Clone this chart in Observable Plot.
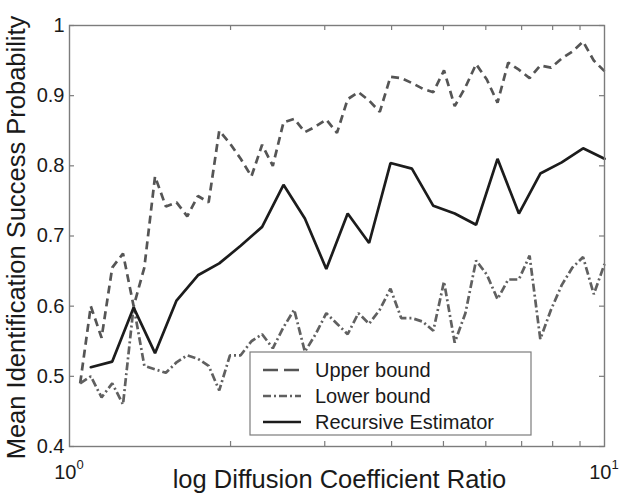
<!DOCTYPE html>
<html>
<head>
<meta charset="utf-8">
<script src="https://cdn.jsdelivr.net/npm/d3@7"></script>
<script src="https://cdn.jsdelivr.net/npm/@observablehq/plot@0.6"></script>
<style>
  html, body { margin: 0; padding: 0; background: #fff; }
</style>
</head>
<body>
<div id="chart"></div>
<script>
// Diffusion coefficient ratios (log-spaced) at which the bounds were evaluated
const ratioFine = [1.047, 1.096, 1.148, 1.202, 1.259, 1.318, 1.380, 1.445, 1.514, 1.585,
  1.660, 1.738, 1.820, 1.905, 1.995, 2.089, 2.188, 2.291, 2.399, 2.512,
  2.630, 2.754, 2.884, 3.020, 3.162, 3.311, 3.467, 3.631, 3.802, 3.981,
  4.169, 4.365, 4.571, 4.786, 5.012, 5.248, 5.495, 5.754, 6.026, 6.310,
  6.607, 6.918, 7.244, 7.586, 7.943, 8.318, 8.710, 9.120, 9.550, 10];

const upperBound = [0.49, 0.60, 0.555, 0.655, 0.675, 0.60, 0.655, 0.785, 0.742, 0.748,
  0.728, 0.757, 0.748, 0.85, 0.832, 0.81, 0.785, 0.83, 0.80, 0.862,
  0.867, 0.848, 0.856, 0.866, 0.847, 0.895, 0.905, 0.893, 0.877, 0.927,
  0.925, 0.918, 0.91, 0.905, 0.936, 0.885, 0.912, 0.945, 0.923, 0.89,
  0.947, 0.937, 0.925, 0.943, 0.94, 0.953, 0.963, 0.977, 0.95, 0.935];

const lowerBound = [0.49, 0.50, 0.47, 0.49, 0.46, 0.60, 0.515, 0.51, 0.505, 0.52,
  0.53, 0.525, 0.515, 0.48, 0.53, 0.53, 0.55, 0.56, 0.54, 0.57,
  0.595, 0.535, 0.56, 0.59, 0.575, 0.56, 0.59, 0.575, 0.595, 0.625,
  0.583, 0.583, 0.578, 0.565, 0.635, 0.548, 0.59, 0.665, 0.645, 0.61,
  0.638, 0.638, 0.672, 0.553, 0.595, 0.63, 0.655, 0.67, 0.617, 0.66];

// Ratios at which the recursive estimator was run
const ratioCoarse = [1.096, 1.202, 1.318, 1.445, 1.585, 1.738, 1.905, 2.089, 2.291, 2.512,
  2.754, 3.020, 3.311, 3.631, 3.981, 4.365, 4.786, 5.248, 5.754, 6.310,
  6.918, 7.586, 8.318, 9.120, 10];

const recursiveEstimator = [0.513, 0.521, 0.598, 0.533, 0.608, 0.644, 0.661, 0.686, 0.713, 0.773,
  0.725, 0.653, 0.732, 0.69, 0.804, 0.796, 0.743, 0.732, 0.716, 0.81,
  0.732, 0.789, 0.805, 0.825, 0.81];

const yTicks = [0.4, 0.5, 0.6, 0.7, 0.8, 0.9, 1];
const xMinorTicks = [2, 3, 4, 5, 6, 7, 8, 9];
const xMajorTicks = [1, 10];
const seriesNames = ["Upper bound", "Lower bound", "Recursive Estimator"];

const FONT = "'Liberation Sans', Arial, Helvetica, sans-serif";
const W = 619, H = 495;
const M = {top: 25, right: 15, bottom: 49, left: 69};
const innerW = W - M.left - M.right;
const innerH = H - M.top - M.bottom;
const TICK = 5;
const AXIS_GRAY = "#7c7c7c";

const upperRows = ratioFine.map((r, i) => ({ratio: r, value: upperBound[i]}));
const lowerRows = ratioFine.map((r, i) => ({ratio: r, value: lowerBound[i]}));
const estRows = ratioCoarse.map((r, i) => ({ratio: r, value: recursiveEstimator[i]}));

const styles = [
  {stroke: "#555555", strokeWidth: 2.7, strokeDasharray: "8,5", legendDash: "15,6"},
  {stroke: "#606060", strokeWidth: 2.7, strokeDasharray: "8,3,2,3", legendDash: "8,3,2,3"},
  {stroke: "#1c1c1c", strokeWidth: 2.7, strokeDasharray: null, legendDash: null}
];

const chart = Plot.plot({
  width: W, height: H,
  marginTop: M.top, marginRight: M.right, marginBottom: M.bottom, marginLeft: M.left,
  style: {fontFamily: FONT, fontSize: "20px", color: "#1a1a1a", background: "#fff", overflow: "visible"},
  x: {type: "log", domain: [1, 10], axis: null},
  y: {domain: [0.4, 1]},
  marks: [
    // inward tick marks on all four sides
    Plot.tickY(yTicks, {y: d => d, insetRight: innerW - TICK, stroke: AXIS_GRAY, strokeWidth: 1.2}),
    Plot.tickY(yTicks, {y: d => d, insetLeft: innerW - TICK, stroke: AXIS_GRAY, strokeWidth: 1.2}),
    Plot.tickX(xMinorTicks, {x: d => d, insetTop: innerH - TICK, stroke: AXIS_GRAY, strokeWidth: 1.2}),
    Plot.tickX(xMinorTicks, {x: d => d, insetBottom: innerH - TICK, stroke: AXIS_GRAY, strokeWidth: 1.2}),
    Plot.axisY(yTicks, {
      tickSize: 0, tickPadding: 5, label: null,
      tickFormat: d => (d === 1 ? "1" : d.toFixed(1)),
      fontSize: 20, fill: "#1a1a1a"
    }),
    Plot.line(upperRows, {x: "ratio", y: "value", stroke: styles[0].stroke, strokeWidth: styles[0].strokeWidth,
      strokeDasharray: styles[0].strokeDasharray, strokeLinecap: "butt", strokeLinejoin: "miter"}),
    Plot.line(lowerRows, {x: "ratio", y: "value", stroke: styles[1].stroke, strokeWidth: styles[1].strokeWidth,
      strokeDasharray: styles[1].strokeDasharray, strokeLinecap: "butt", strokeLinejoin: "miter"}),
    Plot.line(estRows, {x: "ratio", y: "value", stroke: styles[2].stroke, strokeWidth: styles[2].strokeWidth,
      strokeLinejoin: "miter"}),
    Plot.frame({stroke: AXIS_GRAY, strokeWidth: 1.4})
  ]
});

document.getElementById("chart").appendChild(chart);

const svg = d3.select(chart);
const xs = chart.scale("x");

// decade labels 10^0 and 10^1 below the axis
xMajorTicks.forEach(v => {
  const t = svg.append("text")
    .attr("x", xs.apply(v)).attr("y", 479)
    .attr("text-anchor", "middle")
    .attr("font-family", FONT).attr("font-size", 20).attr("fill", "#1a1a1a");
  t.append("tspan").text("10");
  t.append("tspan").attr("font-size", 13).attr("dy", -10).text(String(Math.round(Math.log10(v))));
});

// axis titles
svg.append("text")
  .attr("x", M.left + innerW / 2 + 3).attr("y", 488)
  .attr("text-anchor", "middle")
  .attr("font-family", FONT).attr("font-size", 25.5).attr("fill", "#1a1a1a")
  .text("log Diffusion Coefficient Ratio");

svg.append("text")
  .attr("transform", `translate(25,${M.top + innerH / 2 + 2}) rotate(-90)`)
  .attr("text-anchor", "middle")
  .attr("font-family", FONT).attr("font-size", 25.5).attr("fill", "#1a1a1a")
  .text("Mean Identification Success Probability");

// legend box inside the axes
const lg = svg.append("g").attr("transform", "translate(250,352)");
lg.append("rect").attr("width", 281).attr("height", 83)
  .attr("fill", "#fff").attr("stroke", AXIS_GRAY).attr("stroke-width", 1.2);
seriesNames.forEach((name, i) => {
  const cy = 18 + i * 26;
  const s = styles[i];
  lg.append("line").attr("x1", 13).attr("x2", 51).attr("y1", cy).attr("y2", cy)
    .attr("stroke", s.stroke).attr("stroke-width", s.strokeWidth)
    .attr("stroke-dasharray", s.legendDash);
  lg.append("text").attr("x", 65).attr("y", cy).attr("dy", "0.36em")
    .attr("text-anchor", "start")
    .attr("font-family", FONT).attr("font-size", 20).attr("fill", "#1a1a1a")
    .text(name);
});
</script>
</body>
</html>
